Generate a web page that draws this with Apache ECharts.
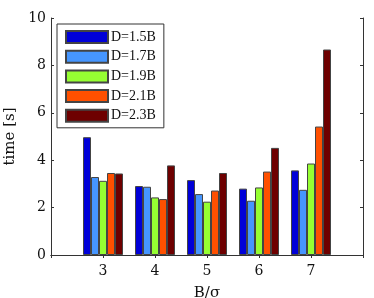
<!DOCTYPE html>
<html>
<head>
<meta charset="utf-8">
<style>html,body{margin:0;padding:0;background:#fff}#c{width:374px;height:298px}</style>
<script src="https://cdn.jsdelivr.net/npm/echarts@6/dist/echarts.min.js"></script>
</head>
<body>
<div id="c"></div>
<script>
const categories = ['', '3', '4', '5', '6', '7', ''];
const seriesNames = ['D=1.5B', 'D=1.7B', 'D=1.9B', 'D=2.1B', 'D=2.3B'];
const d15 = [4.97, 2.91, 3.16, 2.80, 3.57];
const d17 = [3.29, 2.88, 2.57, 2.29, 2.75];
const d19 = [3.13, 2.43, 2.25, 2.85, 3.86];
const d21 = [3.46, 2.36, 2.72, 3.52, 5.42];
const d23 = [3.44, 3.78, 3.46, 4.52, 8.67];
const colors = ['#0000d8', '#4696ff', '#96ff32', '#ff5000', '#6e0000'];
const yTicks = [0, 2, 4, 6, 8, 10];

const allData = [d15, d17, d19, d21, d23];
const font = 'DejaVu Serif, serif';
const legendFont = 'Liberation Serif, serif';
const chart = echarts.init(document.getElementById('c'));
const lineStyle = { color: '#333', width: 1 };
chart.setOption({
  animation: false,
  grid: { left: 51, right: 11, top: 18, bottom: 43, outerBoundsMode: 'none', containLabel: false },
  legend: {
    orient: 'vertical', left: 57, top: 24,
    padding: [6, 8, 5, 8],
    icon: 'rect',
    itemWidth: 42, itemHeight: 12, itemGap: 5.7,
    borderColor: '#333', borderWidth: 1, backgroundColor: '#fff', borderRadius: 0,
    textStyle: { fontFamily: legendFont, fontSize: 14, color: '#111', padding: [0, 0, 0, -2] },
    data: seriesNames
  },
  xAxis: [{
    type: 'category', data: categories, boundaryGap: false,
    axisLine: { lineStyle }, axisTick: { inside: true, length: 3, lineStyle },
    axisLabel: { fontFamily: font, fontSize: 14, color: '#111', margin: 9 },
    name: 'B/σ', nameLocation: 'middle', nameGap: 31,
    nameTextStyle: { fontFamily: font, fontSize: 15, color: '#111' },
    splitLine: { show: false }
  }, {
    type: 'category', data: categories, boundaryGap: false, position: 'top',
    axisLine: { lineStyle }, axisTick: { inside: true, length: 3, lineStyle },
    axisLabel: { show: false }
  }],
  yAxis: [{
    type: 'value', min: 0, max: 10, interval: 2,
    axisLine: { show: true, lineStyle }, axisTick: { show: true, inside: true, length: 3, lineStyle },
    axisLabel: { fontFamily: font, fontSize: 14, color: '#111', margin: 5,
      formatter: v => yTicks.includes(v) ? String(v) : '' },
    splitLine: { show: false },
    name: 'time [s]', nameLocation: 'middle', nameGap: 32,
    nameTextStyle: { fontFamily: font, fontSize: 15, color: '#111' }
  }, {
    type: 'value', min: 0, max: 10, interval: 2, position: 'right',
    axisLine: { show: true, lineStyle }, axisTick: { show: true, inside: true, length: 3, lineStyle },
    axisLabel: { show: false }, splitLine: { show: false }
  }],
  series: seriesNames.map((n, i) => ({
    name: n, type: 'bar', xAxisIndex: 0, yAxisIndex: 0,
    data: [null, ...allData[i], null],
    barWidth: 8, barGap: '0%',
    itemStyle: { color: colors[i], borderColor: '#444', borderWidth: 1 }
  }))
});
</script>
</body>
</html>
